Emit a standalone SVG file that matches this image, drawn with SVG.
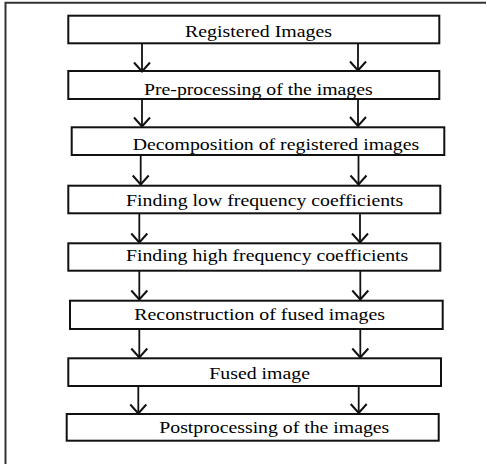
<svg xmlns="http://www.w3.org/2000/svg" width="487" height="464" viewBox="0 0 487 464">
<style>
.box{fill:#fff;stroke:#111;stroke-width:2}
.lbl{font-family:'Liberation Serif','Times New Roman',serif;font-size:16.5px;fill:#000}
.arr{stroke:#111;stroke-width:1.8;fill:none;marker-end:url(#ah)}
.frame{fill:none;stroke:#333;stroke-width:2}
</style>
<defs>
<marker id="ah" markerWidth="20" markerHeight="20" refX="10" refY="10" orient="auto" markerUnits="userSpaceOnUse" overflow="visible">
<path d="M1,2 L10,10 L1,18" fill="none" stroke="#111" stroke-width="2"/>
</marker>
</defs>
<rect width="487" height="464" fill="#fff"/>
<path class="frame" d="M5.5,464 V2.8 H486"/>
<g id="n1"><rect class="box" x="68.3" y="15.7" width="371" height="27.6"/><text class="lbl" x="185" y="37" textLength="147" lengthAdjust="spacingAndGlyphs">Registered Images</text></g>
<g id="n2"><rect class="box" x="68.3" y="71" width="371" height="28"/><text class="lbl" x="144" y="94.5" textLength="228.7" lengthAdjust="spacingAndGlyphs">Pre-processing of the images</text></g>
<g id="n3"><rect class="box" x="71.7" y="127.3" width="372.6" height="27.7"/><text class="lbl" x="132.7" y="150" textLength="286.6" lengthAdjust="spacingAndGlyphs">Decomposition of registered images</text></g>
<g id="n4"><rect class="box" x="68.3" y="185.7" width="372" height="27.6"/><text class="lbl" x="126" y="205.5" textLength="277.3" lengthAdjust="spacingAndGlyphs">Finding low frequency coefficients</text></g>
<g id="n5"><rect class="box" x="68.3" y="243.3" width="372" height="27.4"/><text class="lbl" x="126" y="261" textLength="282.3" lengthAdjust="spacingAndGlyphs">Finding high frequency coefficients</text></g>
<g id="n6"><rect class="box" x="70" y="300.7" width="372.7" height="28.3"/><text class="lbl" x="134.3" y="320" textLength="250.7" lengthAdjust="spacingAndGlyphs">Reconstruction of fused images</text></g>
<g id="n7"><rect class="box" x="68.3" y="358.3" width="372.7" height="27.7"/><text class="lbl" x="209.3" y="379" textLength="100.7" lengthAdjust="spacingAndGlyphs">Fused image</text></g>
<g id="n8"><rect class="box" x="66.7" y="414" width="372" height="26.7"/><text class="lbl" x="159.3" y="432.5" textLength="230" lengthAdjust="spacingAndGlyphs">Postprocessing of the images</text></g>
<g id="connectors">
<path class="arr" d="M142,43.3 V71.5"/>
<path class="arr" d="M358,43.3 V70.5"/>
<path class="arr" d="M142,99 V126.5"/>
<path class="arr" d="M358,99 V126"/>
<path class="arr" d="M140.7,155 V184.5"/>
<path class="arr" d="M358.5,155 V184.5"/>
<path class="arr" d="M139.3,213.3 V242.5"/>
<path class="arr" d="M360,213.3 V242.5"/>
<path class="arr" d="M139.3,270.7 V299.5"/>
<path class="arr" d="M360.3,270.7 V299.5"/>
<path class="arr" d="M139.3,329 V357.5"/>
<path class="arr" d="M360.3,329 V357.5"/>
<path class="arr" d="M138.3,386 V413.5"/>
<path class="arr" d="M358.7,386 V413"/>
</g>
</svg>
